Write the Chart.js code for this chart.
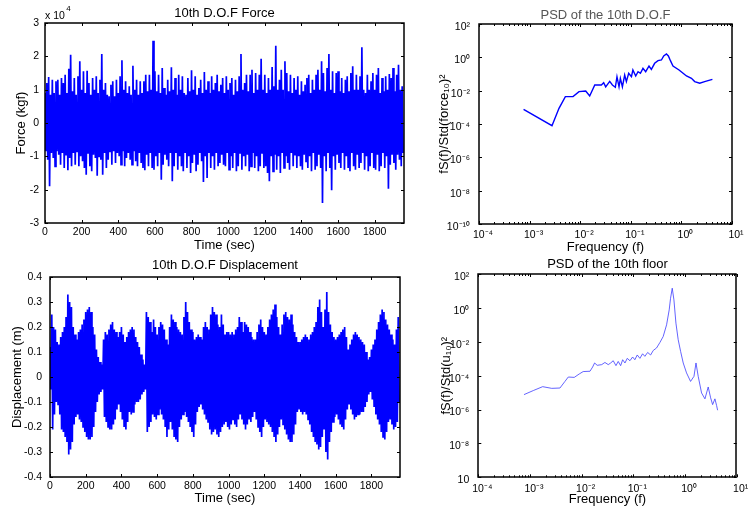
<!DOCTYPE html>
<html lang="en">
<head>
<meta charset="UTF-8">
<title>10th D.O.F Force, Displacement and PSD</title>
<script src="https://cdn.jsdelivr.net/npm/chart.js@4"></script>
<style>
  html, body { margin: 0; padding: 0; background: #fff; }
  #wrap { position: relative; width: 756px; height: 506px; overflow: hidden; }
  canvas { position: absolute; }
</style>
</head>
<body>
<div id="wrap">
  <canvas id="forceChart" width="420" height="256" style="left:0;top:0"></canvas>
  <canvas id="psdForceChart" width="336" height="256" style="left:420px;top:0"></canvas>
  <canvas id="dispChart" width="420" height="256" style="left:0;top:250px"></canvas>
  <canvas id="psdFloorChart" width="336" height="256" style="left:420px;top:250px"></canvas>
</div>
<script>
// ---- data ----
const timeBin = 10; // sec per bin: one peak and one trough per bin
const timeTicks = [0, 200, 400, 600, 800, 1000, 1200, 1400, 1600, 1800];

// force, units of 1e4 kgf
const forceHi = [0.9,1.2,1.38,0.85,1.3,0.9,1.25,1.3,0.85,1.35,
 1.2,1.45,0.9,1.63,2.05,0.95,1.35,0.85,1.4,1.85,
 1.0,1.55,0.9,1.57,1.2,0.85,1.35,1.0,1.4,0.9,
 1.3,2.07,1.0,1.2,0.85,0.8,1.15,1.25,0.8,1.3,
 0.9,1.4,1.88,1.0,1.25,0.9,1.1,0.85,1.72,1.0,
 1.3,0.85,1.25,0.9,1.25,1.45,0.95,1.45,1.0,2.47,
 1.55,0.95,1.45,0.9,1.65,1.05,0.85,1.3,0.95,1.67,
 1.0,1.35,0.85,1.45,1.0,1.4,0.9,0.85,1.35,0.95,
 1.58,1.0,1.4,0.85,1.05,1.3,0.9,1.53,1.0,1.25,
 0.9,1.4,1.0,1.2,1.45,0.95,1.15,1.35,0.9,1.4,
 1.0,1.2,1.35,0.85,1.3,0.95,1.4,2.07,1.0,1.2,
 1.45,0.95,1.45,1.6,0.9,1.5,1.0,1.45,1.93,1.0,
 1.45,0.9,1.35,1.0,1.68,1.1,2.32,1.0,1.3,1.6,
 1.0,1.85,1.5,0.95,1.45,0.9,1.35,1.0,1.4,0.85,
 1.25,0.95,1.15,1.35,1.45,0.9,1.3,1.0,1.45,1.6,
 1.0,1.85,1.5,0.95,1.65,2.07,1.0,1.55,0.9,1.5,
 1.55,0.95,1.35,0.9,1.3,1.4,0.95,1.5,1.7,1.0,
 1.45,1.0,1.4,2.27,1.0,0.9,1.45,1.0,1.25,1.5,
 1.0,1.45,1.65,0.9,1.35,0.95,1.4,1.0,1.47,1.35,
 1.65,0.95,1.45,1.75,1.0,1.1];
const forceLo = [-0.85,-1.1,-1.9,-0.9,-1.05,-1.3,-0.85,-0.95,-1.25,-0.9,
 -1.35,-0.95,-1.42,-1.05,-1.3,-0.9,-1.25,-0.85,-1.3,-1.0,
 -1.15,-1.35,-1.55,-0.9,-1.3,-1.45,-0.95,-1.05,-1.58,-1.0,
 -1.1,-1.55,-0.9,-1.35,-1.1,-0.85,-1.25,-0.85,-1.2,-0.9,
 -1.0,-1.25,-0.85,-1.3,-1.05,-0.9,-1.1,-1.25,-0.85,-1.15,
 -1.3,-0.9,-1.2,-1.35,-1.42,-0.95,-1.3,-0.9,-1.35,-1.4,
 -1.0,-1.3,-0.9,-1.7,-1.25,-0.95,-1.1,-1.3,-0.9,-1.75,
 -1.3,-0.9,-1.4,-1.0,-1.3,-1.45,-0.9,-1.35,-1.0,-1.5,
 -1.2,-0.95,-1.45,-1.25,-0.9,-1.15,-1.77,-1.0,-1.65,-0.9,
 -1.35,-1.0,-1.4,-0.9,-1.3,-1.2,-0.95,-1.25,-1.3,-0.9,
 -1.4,-1.0,-1.35,-0.9,-1.45,-1.3,-0.9,-1.4,-1.0,-1.3,
 -0.95,-1.45,-1.3,-0.9,-1.35,-1.0,-1.45,-1.3,-0.9,-1.35,
 -1.3,-1.5,-1.75,-1.0,-1.45,-0.95,-1.4,-1.0,-1.5,-0.9,
 -1.35,-1.0,-1.2,-1.4,-0.9,-1.3,-0.95,-1.35,-1.0,-1.3,
 -1.4,-0.95,-1.15,-1.35,-1.0,-1.45,-0.9,-1.4,-1.3,-0.95,
 -1.35,-2.4,-1.0,-1.45,-0.9,-1.35,-2.02,-1.0,-1.4,-0.95,
 -1.2,-1.35,-0.9,-1.4,-1.0,-1.35,-1.45,-0.9,-1.3,-1.4,
 -0.95,-1.35,-1.2,-0.9,-1.4,-1.0,-1.45,-1.3,-0.9,-1.35,
 -1.4,-0.95,-1.45,-1.3,-0.9,-1.35,-1.0,-1.97,-1.25,-0.95,
 -1.2,-1.4,-0.95,-1.1,-1.3,-0.9];
const forceYTicks = [-3, -2, -1, 0, 1, 2, 3];

// displacement, m
const dispHi = [0.12,0.25,0.2,0.19,0.14,0.13,0.16,0.18,0.2,0.24,
 0.33,0.3,0.28,0.2,0.17,0.15,0.18,0.19,0.21,0.23,
 0.26,0.27,0.28,0.26,0.2,0.17,0.11,0.08,0.06,0.05,
 0.15,0.18,0.17,0.19,0.21,0.22,0.19,0.18,0.16,0.18,
 0.2,0.17,0.14,0.16,0.18,0.19,0.2,0.19,0.16,0.14,
 0.12,0.09,0.07,0.05,0.26,0.24,0.22,0.18,0.23,0.2,
 0.17,0.2,0.22,0.21,0.19,0.15,0.13,0.2,0.25,0.23,
 0.22,0.2,0.19,0.18,0.17,0.24,0.3,0.26,0.22,0.19,
 0.18,0.15,0.16,0.17,0.16,0.15,0.2,0.22,0.2,0.19,
 0.25,0.28,0.26,0.25,0.21,0.2,0.25,0.21,0.17,0.18,
 0.18,0.17,0.18,0.17,0.19,0.2,0.24,0.22,0.18,0.22,
 0.21,0.2,0.18,0.16,0.15,0.15,0.18,0.21,0.23,0.2,
 0.18,0.17,0.2,0.23,0.25,0.27,0.29,0.24,0.2,0.17,
 0.21,0.25,0.26,0.24,0.23,0.25,0.21,0.18,0.16,0.14,
 0.14,0.15,0.16,0.17,0.16,0.15,0.17,0.18,0.2,0.22,
 0.28,0.31,0.26,0.2,0.27,0.34,0.26,0.21,0.18,0.16,
 0.15,0.16,0.17,0.18,0.19,0.2,0.16,0.11,0.13,0.15,
 0.17,0.18,0.17,0.16,0.15,0.14,0.13,0.1,0.07,0.08,
 0.11,0.13,0.15,0.19,0.22,0.25,0.27,0.26,0.23,0.21,
 0.19,0.17,0.15,0.13,0.19,0.24];
const dispLo = [-0.05,-0.21,-0.15,-0.1,-0.11,-0.15,-0.21,-0.22,-0.24,-0.26,
 -0.31,-0.29,-0.26,-0.19,-0.16,-0.15,-0.17,-0.18,-0.2,-0.22,
 -0.24,-0.25,-0.25,-0.24,-0.2,-0.14,-0.1,-0.07,-0.06,-0.05,
 -0.16,-0.18,-0.2,-0.21,-0.21,-0.19,-0.17,-0.13,-0.11,-0.14,
 -0.17,-0.2,-0.21,-0.18,-0.14,-0.15,-0.14,-0.11,-0.1,-0.1,
 -0.09,-0.07,-0.06,-0.05,-0.22,-0.2,-0.18,-0.15,-0.16,-0.17,
 -0.15,-0.13,-0.15,-0.17,-0.2,-0.24,-0.21,-0.18,-0.21,-0.24,
 -0.25,-0.26,-0.2,-0.17,-0.15,-0.14,-0.16,-0.18,-0.2,-0.22,
 -0.24,-0.19,-0.14,-0.12,-0.11,-0.13,-0.15,-0.17,-0.18,-0.21,
 -0.23,-0.22,-0.21,-0.23,-0.24,-0.22,-0.2,-0.19,-0.18,-0.2,
 -0.21,-0.19,-0.17,-0.19,-0.2,-0.17,-0.15,-0.17,-0.19,-0.21,
 -0.19,-0.17,-0.18,-0.16,-0.14,-0.17,-0.2,-0.22,-0.24,-0.2,
 -0.17,-0.18,-0.19,-0.2,-0.22,-0.24,-0.26,-0.23,-0.2,-0.17,
 -0.19,-0.21,-0.23,-0.25,-0.26,-0.26,-0.23,-0.19,-0.14,-0.13,
 -0.14,-0.15,-0.14,-0.15,-0.17,-0.19,-0.22,-0.24,-0.26,-0.27,
 -0.29,-0.28,-0.24,-0.21,-0.3,-0.33,-0.26,-0.22,-0.18,-0.16,
 -0.15,-0.17,-0.19,-0.2,-0.21,-0.17,-0.13,-0.11,-0.13,-0.15,
 -0.17,-0.16,-0.15,-0.15,-0.14,-0.14,-0.12,-0.1,-0.07,-0.06,
 -0.09,-0.12,-0.15,-0.17,-0.19,-0.22,-0.24,-0.25,-0.22,-0.18,
 -0.17,-0.19,-0.21,-0.2,-0.18,-0.1];
const dispYTicks = [-0.4, -0.3, -0.2, -0.1, 0, 0.1, 0.2, 0.3, 0.4];

// PSD of the 10th D.O.F force
const psdForceFreq = [7.6e-4,2.77e-3,3.81e-3,5.09e-3,7.21e-3,9.46e-3,1.285e-2,1.54e-2,1.94e-2,2.62e-2,
 2.91e-2,3.19e-2,3.83e-2,4.33e-2,4.95e-2,5.33e-2,5.85e-2,6.22e-2,6.82e-2,7.57e-2,
 8.18e-2,9.08e-2,0.103,0.110,0.125,0.139,0.155,0.174,0.197,0.229,
 0.255,0.296,0.345,0.403,0.447,0.506,0.553,0.607,0.682,0.898,
 1.08,1.26,1.58,1.83,2.30,2.88,3.36,4.10];
const psdForceVal = [7.6e-4,7.9e-5,8.7e-4,4.4e-3,4.4e-3,8.7e-3,9.5e-3,4.8e-3,2.2e-2,2.2e-2,
 3.0e-2,1.7e-2,3.6e-2,2.2e-2,1.6e-2,6.9e-2,1.7e-2,5.5e-2,1.7e-2,8.7e-2,
 3.5e-2,0.11,6.9e-2,0.174,7.6e-2,0.138,0.11,0.219,0.138,0.302,
 0.191,0.437,0.631,0.692,1.20,1.58,1.20,0.631,0.302,0.174,
 0.110,7.6e-2,5.5e-2,3.5e-2,2.8e-2,3.5e-2,4.0e-2,4.8e-2];

// PSD of the 10th floor displacement
const psdFloorFreq = [7.66e-4,1.16e-3,1.76e-3,2.63e-3,3.80e-3,4.75e-3,5.51e-3,7.19e-3,8.99e-3,1.07e-2,
 1.45e-2,1.63e-2,1.78e-2,2.00e-2,2.44e-2,2.82e-2,3.27e-2,3.64e-2,4.08e-2,4.61e-2,
 5.10e-2,5.68e-2,6.21e-2,6.89e-2,7.62e-2,8.59e-2,9.68e-2,0.107,0.119,0.134,
 0.151,0.167,0.189,0.216,0.243,0.281,0.327,0.378,0.440,0.494,
 0.525,0.566,0.610,0.667,0.738,0.822,0.923,1.07,1.28,1.49,
 1.63,1.80,2.09,2.43,2.81,3.13,3.42,3.79,4.08,4.27];
const psdFloorVal = [7.6e-6,1.32e-5,2.24e-5,1.78e-5,1.86e-5,4.57e-5,8.3e-5,7.9e-5,1.26e-4,1.74e-4,
 1.82e-4,3.24e-4,5.6e-4,4.07e-4,4.47e-4,6.0e-4,4.47e-4,5.6e-4,7.6e-4,3.89e-4,
 6.9e-4,3.89e-4,8.7e-4,5.6e-4,1.05e-3,7.6e-4,1.26e-3,8.7e-4,1.66e-3,1.05e-3,
 1.95e-3,1.38e-3,2.34e-3,1.66e-3,3.09e-3,4.27e-3,9.1e-3,2.04e-2,0.1,0.76,
 3.7,14.5,2.95,0.126,1.32e-2,2.69e-3,5.6e-4,1.45e-4,4.57e-5,9.1e-5,
 5.6e-4,9.1e-5,9.5e-6,4.27e-6,2.14e-5,4.9e-6,1.95e-6,4.27e-6,1.74e-6,9.1e-7];

const psdXTicks = [1e-4, 1e-3, 1e-2, 1e-1, 1, 10];
const psdXLabels = ['10\u207B\u2074', '10\u207B\u00B3', '10\u207B\u00B2', '10\u207B\u00B9', '10\u2070', '10\u00B9'];
const psdYTicks = [1e-10, 1e-8, 1e-6, 1e-4, 1e-2, 1, 100];
const psdForceYLabels = ['10\u207B\u00B9\u2070', '10\u207B\u2078', '10\u207B\u2076', '10\u207B\u2074', '10\u207B\u00B2', '10\u2070', '10\u00B2'];
const psdFloorYLabels = ['10', '10\u207B\u2078', '10\u207B\u2076', '10\u207B\u2074', '10\u207B\u00B2', '10\u2070', '10\u00B2'];

// ---- drawing ----
Chart.defaults.font.family = "'Liberation Sans', Arial, Helvetica, sans-serif";
Chart.defaults.color = '#000';

// minor tick positions for the log frequency axes (2..9 in each decade)
const minorFreq = [];
for (let d = -4; d < 1; d++) {
    for (let m = 2; m <= 9; m++) minorFreq.push(m * Math.pow(10, d));
}

// axes box with inward ticks, like the original plots
const boxPlugin = {
    id: 'box',
    afterDatasetsDraw(chart, args, opts) {
        const { ctx, chartArea: a } = chart;
        const xs = chart.scales.x, ys = chart.scales.y;
        ctx.save();
        ctx.strokeStyle = '#000';
        ctx.lineWidth = 1;
        ctx.beginPath();
        xs.ticks.forEach(t => {
            const px = Math.round(xs.getPixelForValue(t.value)) + 0.5;
            ctx.moveTo(px, a.bottom); ctx.lineTo(px, a.bottom - 3);
            ctx.moveTo(px, a.top); ctx.lineTo(px, a.top + 3);
        });
        (opts.minorX || []).forEach(v => {
            const px = Math.round(xs.getPixelForValue(v)) + 0.5;
            ctx.moveTo(px, a.bottom); ctx.lineTo(px, a.bottom - 2);
            ctx.moveTo(px, a.top); ctx.lineTo(px, a.top + 2);
        });
        ys.ticks.forEach(t => {
            const py = Math.round(ys.getPixelForValue(t.value)) + 0.5;
            ctx.moveTo(a.left, py); ctx.lineTo(a.left + 3, py);
            ctx.moveTo(a.right, py); ctx.lineTo(a.right - 3, py);
        });
        ctx.stroke();
        ctx.lineWidth = 1.5;
        ctx.strokeRect(Math.round(a.left), Math.round(a.top), Math.round(a.width), Math.round(a.height));
        ctx.restore();
    }
};

// "x 10^4" multiplier above the force axis
const expPlugin = {
    id: 'expLabel',
    afterDraw(chart, args, opts) {
        if (!opts.text) return;
        const { ctx, chartArea: a } = chart;
        ctx.save();
        ctx.fillStyle = '#000';
        ctx.textBaseline = 'alphabetic';
        ctx.font = "10.5px 'Liberation Sans', Arial, sans-serif";
        ctx.fillText(opts.text, a.left, a.top - 4.5);
        const w = ctx.measureText(opts.text).width;
        ctx.font = "8px 'Liberation Sans', Arial, sans-serif";
        ctx.fillText(opts.sup, a.left + w + 1.5, a.top - 12);
        ctx.restore();
    }
};

function zigzag(hi, lo) {
    const pts = [];
    hi.forEach((h, i) => {
        pts.push({ x: i * timeBin, y: h });
        pts.push({ x: i * timeBin + timeBin / 2, y: lo[i] });
    });
    return pts;
}

function pairs(xs, ys) {
    return xs.map((x, i) => ({ x: x, y: ys[i] }));
}

function fixedTicks(values) {
    return scale => { scale.ticks = values.map(v => ({ value: v })); };
}

function makeChart(id, o) {
    return new Chart(document.getElementById(id), {
        type: 'line',
        data: {
            datasets: [{
                data: o.data,
                borderColor: o.lineColor,
                borderWidth: o.lineWidth,
                pointRadius: 0,
                fill: false,
                tension: 0
            }]
        },
        options: {
            responsive: false,
            animation: false,
            devicePixelRatio: 1,
            events: [],
            layout: { padding: { left: 0, right: o.padRight, top: 0, bottom: 0 } },
            plugins: {
                legend: { display: false },
                tooltip: { enabled: false },
                title: {
                    display: true,
                    text: o.title,
                    fullSize: false,
                    color: o.titleColor || '#000',
                    font: { size: 13, weight: 'normal' },
                    padding: o.titlePad
                },
                box: { minorX: o.minorX || [] },
                expLabel: o.exp || {}
            },
            scales: {
                x: {
                    type: o.xType,
                    min: o.xMin,
                    max: o.xMax,
                    afterBuildTicks: fixedTicks(o.xTicks),
                    afterFit: s => { s.height = o.xHeight; },
                    grid: { display: false, drawTicks: false },
                    border: { display: false },
                    ticks: {
                        autoSkip: false,
                        maxRotation: 0,
                        padding: o.xTickPad,
                        labelOffset: o.xLabelOffset || 0,
                        font: { size: 10.5 },
                        callback: o.xLabels ? (v, i) => o.xLabels[i] : (v => String(v))
                    },
                    title: {
                        display: true,
                        text: o.xTitle,
                        font: { size: 13 },
                        padding: { top: 0, bottom: o.xTitlePad }
                    }
                },
                y: {
                    type: o.yType,
                    min: o.yMin,
                    max: o.yMax,
                    afterBuildTicks: fixedTicks(o.yTicks),
                    afterFit: s => { s.width = o.yWidth; },
                    grid: { display: false, drawTicks: false },
                    border: { display: false },
                    ticks: {
                        autoSkip: false,
                        padding: o.yTickPad,
                        labelOffset: o.yLabelOffset || 0,
                        font: { size: 10.5 },
                        callback: o.yLabels ? (v, i) => o.yLabels[i] : (v => String(v))
                    },
                    title: {
                        display: true,
                        text: o.yTitle,
                        font: { size: 13 },
                        padding: { top: o.yTitlePad, bottom: 0 }
                    }
                }
            }
        },
        plugins: [boxPlugin, expPlugin]
    });
}

makeChart('forceChart', {
    data: zigzag(forceHi, forceLo),
    lineColor: '#0000ff', lineWidth: 1.7,
    title: '10th D.O.F Force', titlePad: { top: 5.5, bottom: 1.9 },
    padRight: 16,
    xType: 'linear', xMin: 0, xMax: 1960, xTicks: timeTicks,
    xHeight: 33, xTickPad: 3, xTitle: 'Time (sec)', xTitlePad: 3,
    yType: 'linear', yMin: -3, yMax: 3, yTicks: forceYTicks,
    yWidth: 45, yTickPad: 6, yTitle: 'Force (kgf)', yTitlePad: 14,
    exp: { text: 'x 10', sup: '4' }
});

makeChart('psdForceChart', {
    data: pairs(psdForceFreq, psdForceVal),
    lineColor: '#0000ff', lineWidth: 1.4,
    title: 'PSD of the 10th D.O.F', titleColor: '#555', titlePad: { top: 7.2, bottom: 1.2 },
    padRight: 24,
    xType: 'logarithmic', xMin: 1e-4, xMax: 10, xTicks: psdXTicks, xLabels: psdXLabels,
    xHeight: 32, xTickPad: 5, xLabelOffset: 4, xTitle: 'Frequency (f)', xTitlePad: 1,
    yType: 'logarithmic', yMin: 1e-10, yMax: 100, yTicks: psdYTicks, yLabels: psdForceYLabels,
    yWidth: 59, yTickPad: 9, yLabelOffset: 3,
    yTitle: 'fS(f)/Std(force\u2081\u2080)\u00B2', yTitlePad: 17,
    minorX: minorFreq
});

makeChart('dispChart', {
    data: zigzag(dispHi, dispLo),
    lineColor: '#0000ff', lineWidth: 1.7,
    title: '10th D.O.F Displacement', titlePad: { top: 7.2, bottom: 4.2 },
    padRight: 20,
    xType: 'linear', xMin: 0, xMax: 1960, xTicks: timeTicks,
    xHeight: 29, xTickPad: 3, xTitle: 'Time (sec)', xTitlePad: 0,
    yType: 'linear', yMin: -0.4, yMax: 0.4, yTicks: dispYTicks,
    yWidth: 50, yTickPad: 8, yTitle: 'Displacement (m)', yTitlePad: 9.5
});

makeChart('psdFloorChart', {
    data: pairs(psdFloorFreq, psdFloorVal),
    lineColor: '#3c3cff', lineWidth: 0.8,
    title: 'PSD of the 10th floor', titlePad: { top: 6.2, bottom: 2.2 },
    padRight: 19.3,
    xType: 'logarithmic', xMin: 1e-4, xMax: 10, xTicks: psdXTicks, xLabels: psdXLabels,
    xHeight: 28.7, xTickPad: 6, xLabelOffset: 4, xTitle: 'Frequency (f)', xTitlePad: -1,
    yType: 'logarithmic', yMin: 1e-10, yMax: 100, yTicks: psdYTicks, yLabels: psdFloorYLabels,
    yWidth: 58.3, yTickPad: 9, yLabelOffset: 3,
    yTitle: 'fS(f)/Std(u\u2081\u2080)\u00B2', yTitlePad: 19,
    minorX: minorFreq
});
</script>
</body>
</html>
